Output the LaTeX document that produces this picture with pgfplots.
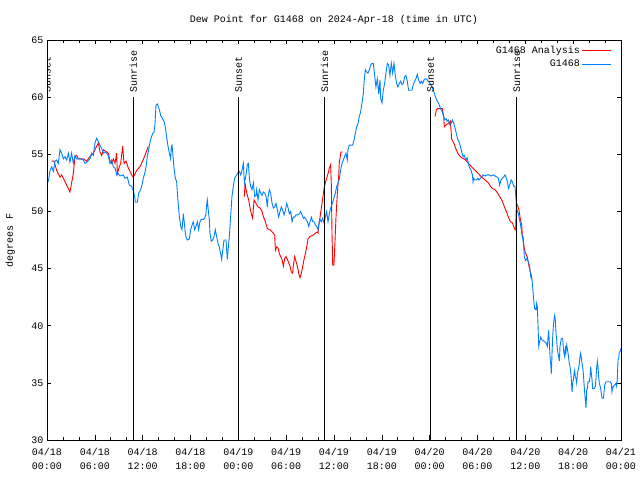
\documentclass[border=0pt]{standalone}
\usepackage{fontspec}
\setmainfont{Liberation Mono}
\usepackage{pgfplots}
\pgfplotsset{compat=1.18}
\definecolor{gblue}{RGB}{0,128,255}
\definecolor{gred}{RGB}{255,0,0}
\begin{document}
\fontsize{10bp}{12bp}\selectfont
\begin{tikzpicture}
\useasboundingbox (0,0) rectangle (640bp,480bp);
\begin{axis}[
  at={(47bp,40bp)}, anchor=south west, scale only axis,
  width=574bp, height=400bp,
  xmin=0, xmax=72, ymin=30, ymax=65,
  xtick={0,6,...,72},
  xticklabels={{04/18\\00:00},{04/18\\06:00},{04/18\\12:00},{04/18\\18:00},{04/19\\00:00},{04/19\\06:00},{04/19\\12:00},{04/19\\18:00},{04/20\\00:00},{04/20\\06:00},{04/20\\12:00},{04/20\\18:00},{04/21\\00:00}},
  xticklabel style={align=center, font=\fontsize{10bp}{14bp}\selectfont, yshift=-5bp},
  minor x tick num=2,
  ytick={30,35,...,65},
  /pgf/number format/assume math mode=true,
  tick align=inside,
  major tick length=4.5bp, minor tick length=3bp,
  tick style={black, line width=0.6bp},
  axis line style={line width=0.8bp},
  ylabel={degrees F},
  ylabel style={at={(axis description cs:-0.064,0.5)}, anchor=center},
  title={Dew Point for G1468 on 2024-Apr-18 (time in UTC)},
  title style={yshift=6bp},
  unbounded coords=jump,
  legend style={at={(axis description cs:1,1)}, anchor=north east, xshift=-6bp, yshift=-2bp, draw=none, fill=none, row sep=1bp},
  legend cell align=right,
  legend plot pos=right,
  legend image code/.code={\draw[#1] (0bp,0bp) -- (29bp,0bp);},
]
\addplot[gred, line width=0.9bp] coordinates {
(0.59,54.4) (0.88,54.4) (1.21,53.6) (1.42,53.3) (1.63,53.0) (1.84,53.2) (2.05,52.9) (2.26,52.6) (2.47,52.3) (2.68,52.0) (2.88,51.7) (3.09,52.5) (3.30,53.3) (3.51,54.8) (3.72,54.9) (3.93,54.6) (4.56,54.6) (4.97,54.4) (5.39,54.8) (5.81,55.1) (6.23,55.7) (6.44,56.0) (6.65,55.2) (6.86,54.9) (7.07,55.4) (7.48,55.2) (7.69,55.1) (7.90,54.4) (8.11,54.2) (8.32,54.6) (8.53,54.2) (8.74,55.1) (8.82,53.3) (9.07,53.9) (9.24,54.2) (9.49,55.7) (9.66,54.2) (9.91,54.4) (10.20,53.8) (10.62,53.2) (10.83,53.0) (11.04,53.3) (11.25,53.6) (11.66,53.9) (11.99,54.4) (12.29,54.9) (12.71,55.7)
(18,nan)
(24.76,51.3) (24.84,52.5) (24.97,51.9) (25.13,51.4) (25.30,51.0) (25.47,50.3) (25.63,49.8) (25.80,49.4) (25.97,51.0) (26.22,50.7) (26.47,50.4) (26.72,50.3) (26.97,50.0) (27.14,49.55) (27.39,49.1) (27.64,48.5) (27.98,48.4) (28.40,48.1) (28.56,47.9) (28.65,46.6) (28.82,46.9) (28.98,46.8) (29.15,46.3) (29.31,46.05) (29.48,45.8) (29.65,45.2) (29.82,45.9) (29.98,46.05) (30.15,45.8) (30.32,45.5) (30.49,45.2) (30.65,44.7) (30.82,44.6) (30.90,45.3) (31.07,46.05) (31.24,45.6) (31.41,45.2) (31.57,44.6) (31.74,44.2) (31.91,44.6) (32.08,45.2) (32.24,45.8) (32.41,46.3) (32.58,46.9) (32.74,47.6) (32.99,47.8) (33.33,47.9) (33.66,48.1) (33.91,48.2) (34.00,48.1) (34.08,48.7) (34.25,49.5) (34.41,50.3) (34.58,51.1) (34.75,52.0) (34.91,52.5) (35.08,52.9) (35.25,53.3) (35.42,53.8) (35.58,54.1) (35.66,52.5) (35.75,48.1) (35.84,45.3) (35.99,45.3) (36.08,46.6) (36.25,49.5) (36.42,51.6) (36.58,53.0) (36.67,54.3) (36.87,55.2) (37.08,55.2)
(42,nan)
(48.67,58.3) (48.84,58.9) (49.01,59.0) (49.34,59.0) (49.59,59.0) (49.76,58.3) (49.84,57.4) (50.09,57.6) (50.35,57.7) (50.60,57.9) (50.68,57.1) (50.77,56.3) (51.02,56.0) (51.27,55.5) (51.52,55.1) (51.77,54.85) (52.02,54.7) (52.27,54.6) (52.52,54.5) (52.86,54.2) (53.27,53.9) (53.69,53.6) (54.11,53.3) (54.53,53.0) (54.95,52.75) (55.36,52.5) (55.62,52.2) (55.87,52.0) (56.20,51.9) (56.53,51.6) (56.87,51.2) (57.12,50.9) (57.37,50.4) (57.62,50.0) (57.87,49.5) (58.12,49.1) (58.37,49.0) (58.54,48.7) (58.71,48.4) (58.79,48.5) (58.88,50.7) (59.04,50.5) (59.21,50.1) (59.38,49.3) (59.55,48.8) (59.63,47.8) (59.71,47.8) (59.84,46.9) (60.00,46.4) (60.25,46.0) (60.46,45.2) (60.67,44.6) (60.84,44.1)
};
\addlegendentry{G1468 Analysis}
\addplot[gblue, line width=0.9bp] coordinates {
(0.17,52.6) (0.38,53.6) (0.59,53.9) (0.80,53.5) (1.00,54.4) (1.21,54.5) (1.42,54.2) (1.63,55.4) (1.84,55.1) (2.05,54.6) (2.26,54.8) (2.47,54.5) (2.68,55.1) (2.88,54.3) (3.09,55.1) (3.30,54.2) (3.51,54.9) (3.72,54.6) (4.14,54.6) (4.56,54.5) (4.77,54.2) (4.97,54.3) (5.39,54.6) (5.60,55.1) (5.81,54.9) (6.02,56.0) (6.23,56.4) (6.44,56.1) (6.65,55.8) (6.86,55.5) (7.07,55.1) (7.27,55.2) (7.48,55.1) (7.69,54.9) (7.90,54.2) (8.11,54.5) (8.32,53.9) (8.53,53.8) (8.74,53.2) (8.95,53.3) (9.16,53.1) (9.57,53.2) (9.78,52.9) (10.08,53.0) (10.33,52.3) (10.62,52.2) (10.83,51.8) (11.00,51.3) (11.08,50.8) (11.33,50.8) (11.50,51.6) (11.75,51.9) (11.91,52.3) (12.08,52.9) (12.25,53.3) (12.42,53.9) (12.58,54.8) (12.75,55.4) (12.91,56.0) (13.09,56.5) (13.25,56.8) (13.42,56.9) (13.55,57.7) (13.67,59.3) (13.84,59.4) (14.09,58.9) (14.26,58.4) (14.42,58.2) (14.67,57.9) (14.84,57.4) (15.01,56.5) (15.18,55.7) (15.35,55.1) (15.51,54.6) (15.60,55.7) (15.68,55.8) (15.76,55.2) (15.93,53.8) (16.10,52.9) (16.26,52.6) (16.43,50.9) (16.60,49.6) (16.77,48.7) (16.93,48.4) (17.01,49.0) (17.10,49.8) (17.18,49.3) (17.27,48.7) (17.35,48.1) (17.43,47.8) (17.60,47.5) (17.85,47.6) (18.02,48.4) (18.19,48.8) (18.35,49.1) (18.52,48.4) (18.69,48.7) (18.86,49.1) (19.02,48.4) (19.19,49.1) (19.36,49.3) (19.61,49.3) (19.78,49.4) (19.94,49.8) (20.03,50.6) (20.11,51.0) (20.19,50.4) (20.28,49.8) (20.36,49.3) (20.44,48.1) (20.61,47.4) (20.78,47.5) (20.95,47.8) (21.11,48.4) (21.28,47.8) (21.45,47.2) (21.61,46.9) (21.78,46.3) (21.91,45.8) (22.03,46.5) (22.20,47.5) (22.45,47.5) (22.62,45.8) (22.70,46.5) (22.87,47.8) (23.04,49.6) (23.20,51.3) (23.37,52.2) (23.54,52.9) (23.79,53.2) (24.04,53.5) (24.13,53.5) (24.30,53.2) (24.46,53.6) (24.63,54.2) (24.76,52.5) (24.97,53.2) (25.13,54.1) (25.26,54.2) (25.40,52.8) (25.55,52.2) (25.72,51.9) (25.89,52.5) (26.05,51.3) (26.22,51.4) (26.30,51.9) (26.47,51.0) (26.64,51.9) (26.81,51.6) (26.97,51.4) (27.14,51.7) (27.31,51.6) (27.48,51.3) (27.64,50.4) (27.73,51.3) (27.89,51.9) (28.06,51.6) (28.23,50.7) (28.40,50.3) (28.56,50.4) (28.73,50.7) (28.90,50.1) (29.06,49.5) (29.23,50.0) (29.40,50.4) (29.57,50.1) (29.73,49.7) (29.90,50.1) (30.07,50.7) (30.24,50.3) (30.40,49.8) (30.57,50.0) (30.74,49.1) (30.90,49.5) (31.07,49.5) (31.24,49.7) (31.49,49.7) (31.66,49.8) (31.82,50.0) (31.99,49.7) (32.16,49.4) (32.33,49.5) (32.49,49.3) (32.66,49.1) (32.83,48.7) (33.00,49.1) (33.16,49.5) (33.33,49.1) (33.50,49.1) (33.66,48.8) (33.83,48.7) (34.00,48.4) (34.08,48.8) (34.25,49.3) (34.41,49.1) (34.58,49.4) (34.75,49.0) (34.91,49.5) (35.08,50.0) (35.25,49.1) (35.42,49.8) (35.58,50.3) (35.75,50.6) (35.92,51.0) (36.17,51.6) (36.34,52.2) (36.59,52.6) (36.75,53.2) (36.83,53.6) (37.00,54.2) (37.17,54.5) (37.33,54.8) (37.50,55.1) (37.67,54.5) (37.75,55.4) (37.92,55.8) (38.17,55.8) (38.34,55.8) (38.50,56.2) (38.67,56.8) (38.84,57.4) (39.01,57.7) (39.17,58.3) (39.34,58.7) (39.51,59.5) (39.68,60.3) (39.76,61.2) (39.84,61.8) (39.93,62.4) (40.09,62.2) (40.26,62.1) (40.43,62.4) (40.60,62.8) (40.76,62.96) (40.93,62.96) (41.10,61.9) (41.26,60.9) (41.43,61.6) (41.60,60.3) (41.77,61.5) (41.85,59.9) (42.02,59.5) (42.18,60.6) (42.35,61.2) (42.52,62.1) (42.69,62.96) (42.86,62.8) (43.02,61.9) (43.19,62.96) (43.36,62.1) (43.52,62.96) (43.69,61.9) (43.86,61.2) (44.02,60.9) (44.19,61.2) (44.36,61.4) (44.53,61.1) (44.69,61.2) (44.86,61.8) (45.03,61.9) (45.19,61.4) (45.36,60.6) (45.61,60.6) (45.78,60.6) (45.95,61.1) (46.12,61.4) (46.28,61.6) (46.45,62.0) (46.62,61.5) (46.79,61.2) (46.95,61.4) (47.12,61.2) (47.29,61.5) (47.45,61.6) (47.62,61.6) (47.79,61.4) (48.04,61.2) (48.29,60.9) (48.46,60.6) (48.75,60.0) (48.92,59.7) (49.09,59.5) (49.26,59.2) (49.43,58.9) (49.59,58.7) (49.76,58.3) (49.93,58.0) (50.10,58.1) (50.18,57.9) (50.35,58.0) (50.51,57.6) (50.68,57.7) (50.85,58.0) (51.02,57.7) (51.18,57.3) (51.35,56.8) (51.52,56.3) (51.68,56.1) (51.85,55.7) (52.02,55.2) (52.19,54.8) (52.35,54.9) (52.52,54.5) (52.69,54.7) (52.86,54.2) (53.02,53.8) (53.19,53.6) (53.36,53.2) (53.44,52.6) (53.52,52.9) (53.69,52.75) (53.86,52.75) (54.03,52.9) (54.19,52.75) (54.36,52.9) (54.53,53.0) (54.70,53.2) (54.95,53.1) (55.20,53.2) (55.45,53.2) (55.70,53.1) (55.95,53.2) (56.20,53.1) (56.45,53.0) (56.61,52.9) (56.78,52.3) (56.95,52.75) (57.12,52.9) (57.28,53.0) (57.45,53.2) (57.62,52.9) (57.79,52.5) (57.87,52.0) (58.04,52.3) (58.21,52.75) (58.37,52.6) (58.54,52.2) (58.71,52.2) (58.79,51.4) (58.88,50.7) (58.96,50.1) (59.13,49.8) (59.21,49.5) (59.38,48.9) (59.55,48.1) (59.71,47.5) (59.80,46.9) (59.88,46.0) (60.04,45.7) (60.21,45.9) (60.38,45.6) (60.54,45.2) (60.67,44.3) (60.84,44.0) (60.92,43.4) (61.00,42.7) (61.09,41.96) (61.17,41.5) (61.34,41.4) (61.42,41.96) (61.50,41.7) (61.59,40.1) (61.68,38.2) (61.76,38.5) (61.93,39.0) (62.09,38.75) (62.26,38.7) (62.43,38.6) (62.60,38.5) (62.76,38.2) (62.85,39.0) (62.93,39.6) (63.01,38.5) (63.10,37.3) (63.18,36.7) (63.26,35.8) (63.35,37.6) (63.43,39.0) (63.51,39.9) (63.60,40.6) (63.68,40.9) (63.76,40.5) (63.85,39.3) (63.93,38.75) (64.01,38.0) (64.10,37.6) (64.18,37.3) (64.27,36.9) (64.35,38.2) (64.52,38.9) (64.69,38.9) (64.77,38.0) (64.85,37.6) (64.94,37.3) (65.02,38.2) (65.10,37.7) (65.19,38.3) (65.27,38.0) (65.36,37.6) (65.44,37.15) (65.52,36.7) (65.61,36.4) (65.69,36.0) (65.77,35.3) (65.86,34.2) (65.94,34.96) (66.02,35.25) (66.11,35.8) (66.19,36.1) (66.27,35.5) (66.36,35.4) (66.44,35.0) (66.53,35.8) (66.61,36.1) (66.69,36.3) (66.77,36.7) (66.86,37.3) (66.94,37.6) (67.03,37.15) (67.11,36.7) (67.19,36.4) (67.28,35.8) (67.36,34.97) (67.45,34.1) (67.53,33.5) (67.61,32.8) (67.70,34.4) (67.78,34.5) (67.86,35.1) (68.03,35.1) (68.11,35.5) (68.20,36.4) (68.28,35.8) (68.37,35.25) (68.45,34.5) (68.62,34.5) (68.79,34.7) (68.87,35.5) (68.95,36.3) (69.03,36.9) (69.12,36.4) (69.20,35.5) (69.28,35.0) (69.45,34.5) (69.62,33.65) (69.79,33.65) (69.87,34.2) (69.95,34.8) (70.12,35.1) (70.29,35.1) (70.45,35.1) (70.62,35.1) (70.79,34.96) (70.87,34.2) (70.95,34.5) (71.04,34.7) (71.21,34.8) (71.37,34.96) (71.46,34.7) (71.54,35.4) (71.63,37.0) (71.71,37.15) (71.79,37.7) (71.88,37.7) (71.96,38.0)
};
\addlegendentry{G1468}
% sunrise / sunset markers
\addplot[black, line width=1.2bp, forget plot] coordinates {(0.05,30) (0.05,60)};
\addplot[black, line width=1.2bp, forget plot] coordinates {(10.83,30) (10.83,60)};
\addplot[black, line width=1.2bp, forget plot] coordinates {(24.02,30) (24.02,60)};
\addplot[black, line width=1.2bp, forget plot] coordinates {(34.83,30) (34.83,60)};
\addplot[black, line width=1.2bp, forget plot] coordinates {(48.12,30) (48.12,60)};
\addplot[black, line width=1.2bp, forget plot] coordinates {(58.91,30) (58.91,60)};
\node[rotate=90, anchor=west, xshift=1bp] at (axis cs:0.05,60) {Sunset};
\node[rotate=90, anchor=west, xshift=1bp] at (axis cs:10.83,60) {Sunrise};
\node[rotate=90, anchor=west, xshift=1bp] at (axis cs:24.02,60) {Sunset};
\node[rotate=90, anchor=west, xshift=1bp] at (axis cs:34.83,60) {Sunrise};
\node[rotate=90, anchor=west, xshift=1bp] at (axis cs:48.12,60) {Sunset};
\node[rotate=90, anchor=west, xshift=1bp] at (axis cs:58.91,60) {Sunrise};
\end{axis}
\end{tikzpicture}
\end{document}
